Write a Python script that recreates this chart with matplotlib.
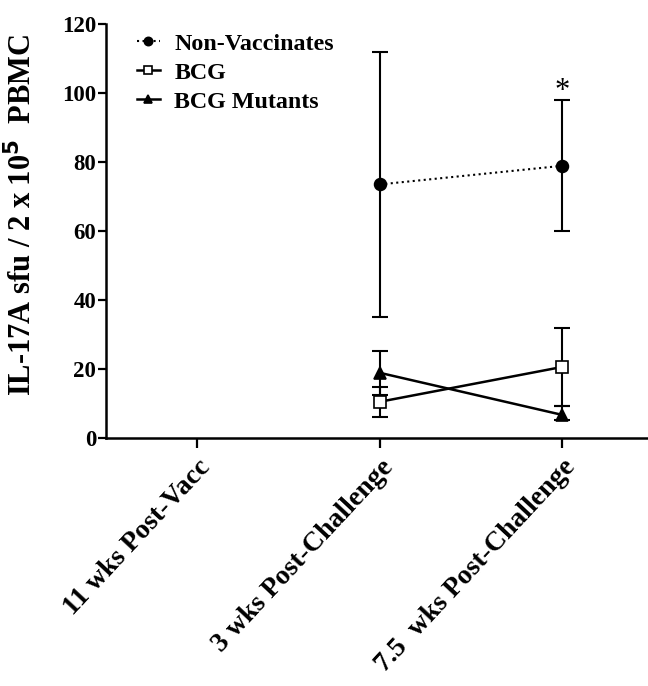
import numpy as np
import matplotlib.pyplot as plt

plt.rcParams['font.family'] = ['Liberation Serif', 'DejaVu Serif']
plt.rcParams['font.weight'] = 'bold'

timepoints = ['11 wks Post-Vacc', '3 wks Post-Challenge', '7.5  wks Post-Challenge']
x_pos = [1, 2]

nonvacc = [73.5, 78.9]
nonvacc_lo = [35.0, 60.1]
nonvacc_hi = [111.8, 98.0]

bcg = [10.5, 20.6]
bcg_lo = [6.2, 9.3]
bcg_hi = [14.8, 31.9]

mutants = [18.9, 6.7]
mutants_lo = [12.6, 5.2]
mutants_hi = [25.2, 9.3]

fig = plt.figure(figsize=(6.48, 6.86), dpi=100)
ax = fig.add_axes([0.1636, 0.3615, 0.8364, 0.6035])

def draw(y, lo, hi, marker, ls, mfc, label):
    y = np.array(y)
    err = [y - np.array(lo), np.array(hi) - y]
    ax.errorbar(x_pos, y, yerr=err, fmt='none', ecolor='black', elinewidth=1.5,
                capsize=5.5, capthick=1.5, zorder=2)
    ax.plot(x_pos, y, color='black', linestyle=ls, linewidth=1.8 if ls == '-' else 1.5,
            marker=marker, markersize=8.5 if marker != 's' else 9, markerfacecolor=mfc,
            markeredgecolor='black', markeredgewidth=1.2, label=label, zorder=3)

draw(nonvacc, nonvacc_lo, nonvacc_hi, 'o', ':', 'black', 'Non-Vaccinates')
draw(bcg, bcg_lo, bcg_hi, 's', '-', 'white', 'BCG')
draw(mutants, mutants_lo, mutants_hi, '^', '-', 'black', 'BCG Mutants')

ax.text(2, 96.3, '*', ha='center', va='bottom', fontsize=22, fontweight='normal')

ax.set_xlim(-0.5, 2.47)
ax.set_ylim(0, 120)
ax.set_yticks(np.arange(0, 121, 20))
ax.set_xticks([0, 1, 2])
ax.set_xticklabels(timepoints, rotation=47, ha='right', rotation_mode='anchor', fontsize=20)
ax.tick_params(axis='y', labelsize=16.5, width=1.6, length=6, pad=1)
ax.tick_params(axis='x', width=1.6, length=7, pad=5)
for s in ['top', 'right']:
    ax.spines[s].set_visible(False)
for s in ['left', 'bottom']:
    ax.spines[s].set_linewidth(1.8)

ax.set_ylabel('IL-17A sfu / 2 x 10$^{\\mathbf{5}}$  PBMC', fontsize=22, fontweight='bold')
ax.yaxis.set_label_coords(-0.125, 0.54)

leg = ax.legend(loc='upper left', bbox_to_anchor=(137 / 648, 1 - 33 / 686),
                bbox_transform=fig.transFigure, frameon=False, fontsize=17.3,
                handlelength=0.95, handletextpad=0.6, labelspacing=0.3,
                borderaxespad=0, borderpad=0, markerscale=0.7)

fig.savefig('out.png', dpi=100)
